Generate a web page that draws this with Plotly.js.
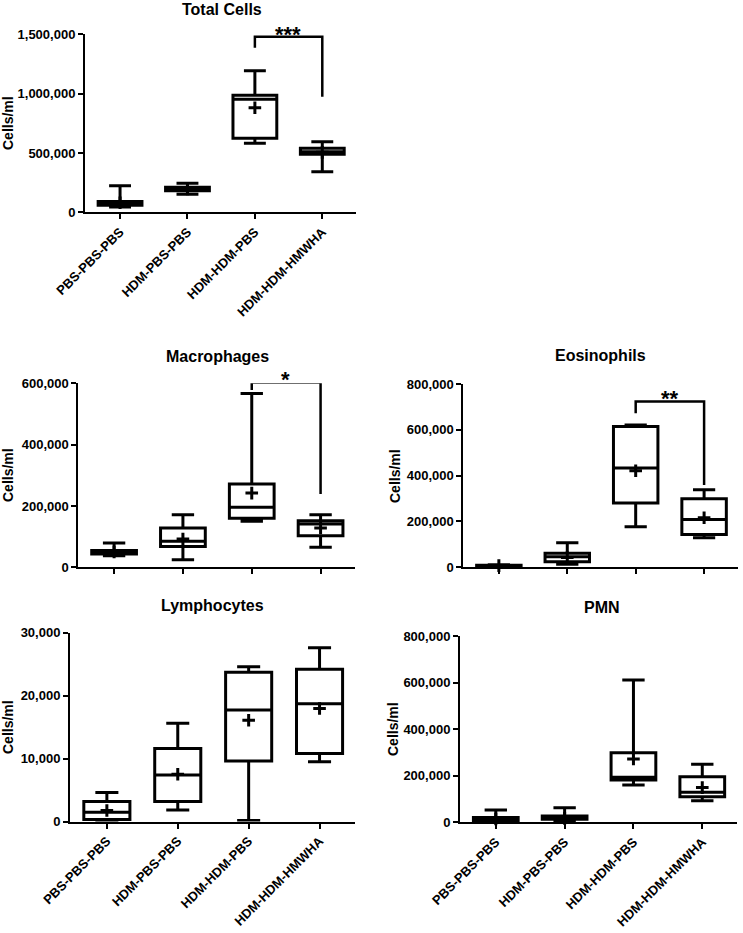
<!DOCTYPE html>
<html>
<head>
<meta charset="utf-8">
<script src="https://cdn.plot.ly/plotly-3.0.1.min.js"></script>
<style>html,body{margin:0;padding:0;background:#fff;}#chart{width:743px;height:933px;}</style>
</head>
<body>
<div id="chart"></div>
<script>
// ---------- DATA ----------
const groups = ["PBS-PBS-PBS", "HDM-PBS-PBS", "HDM-HDM-PBS", "HDM-HDM-HMWHA"];

// Total Cells
const totalMin    = [45000, 152000, 581000, 342000];
const totalQ1     = [60000, 182000, 624000, 489000];
const totalMedian = [75000, 196000, 952000, 511000];
const totalQ3     = [91000, 211000, 986000, 539000];
const totalMax    = [224000, 244000, 1193000, 595000];
const totalMean   = [80000, 196000, 881000, 505000];
const totalSig    = [1387000, 1480000, 1480000, 974000];

// Macrophages
const macroMin    = [38000, 25000, 150000, 65000];
const macroQ1     = [43000, 68000, 160000, 103000];
const macroMedian = [50000, 85000, 196000, 141000];
const macroQ3     = [55000, 128000, 272000, 152000];
const macroMax    = [79000, 171000, 567000, 171000];
const macroMean   = [50000, 92000, 242000, 128000];
const macroSig    = [578000, 603000, 603000, 239000];

// Eosinophils
const eosMin    = [2000, 12000, 176000, 128000];
const eosQ1     = [4000, 23000, 280000, 142000];
const eosMedian = [6000, 45000, 433000, 208000];
const eosQ3     = [8000, 60000, 614000, 298000];
const eosMax    = [10000, 106000, 621000, 338000];
const eosMean   = [6000, 41000, 421000, 215000];
const eosSig    = [672000, 723000, 723000, 358000];

// Lymphocytes
const lymMin    = [100, 1840, 160, 9500];
const lymQ1     = [300, 3160, 9600, 10800];
const lymMedian = [1470, 7400, 17700, 18700];
const lymQ3     = [3160, 11600, 23700, 24200];
const lymMax    = [4600, 15600, 24600, 27600];
const lymMean   = [1740, 7500, 16100, 17950];

// PMN
const pmnMin    = [2000, 5000, 160000, 93000];
const pmnQ1     = [6000, 13000, 182000, 110000];
const pmnMedian = [14000, 20000, 193000, 129000];
const pmnQ3     = [21000, 27000, 299000, 196000];
const pmnMax    = [53000, 63000, 611000, 249000];
const pmnMean   = [14000, 17000, 272000, 149000];

// Tick settings
const yMax   = [1500000, 600000, 800000, 30000, 800000];
const yDtick = [500000, 200000, 200000, 10000, 200000];
const titles = ["Total Cells", "Macrophages", "Eosinophils", "Lymphocytes", "PMN"];
const sigLabels = ["***", "*", "**"];

// ---------- LAYOUT HELPERS ----------
const W = 743, H = 933;
const px = v => v / W;
const py = v => 1 - v / H;
const FONT = "Liberation Sans, Arial, Helvetica, sans-serif";

// panel geometry in pixels: [left, right, bottomY, topY]
const panels = [
  [85, 356, 212.3, 34.3],
  [78.3, 355, 567.3, 383.3],
  [463.3, 738.3, 567, 384],
  [70, 355, 821.5, 632.7],
  [460, 736.7, 822.3, 636]
];
const showXLabels = [true, false, false, true, true];

const traces = [];
const stats = [
  [totalMin, totalQ1, totalMedian, totalQ3, totalMax, totalMean],
  [macroMin, macroQ1, macroMedian, macroQ3, macroMax, macroMean],
  [eosMin, eosQ1, eosMedian, eosQ3, eosMax, eosMean],
  [lymMin, lymQ1, lymMedian, lymQ3, lymMax, lymMean],
  [pmnMin, pmnQ1, pmnMedian, pmnQ3, pmnMax, pmnMean]
];
const sigs = [totalSig, macroSig, eosSig];

stats.forEach((s, i) => {
  const xa = i === 0 ? "x" : "x" + (i + 1);
  const ya = i === 0 ? "y" : "y" + (i + 1);
  traces.push({
    type: "box", x: groups, xaxis: xa, yaxis: ya,
    lowerfence: s[0], q1: s[1], median: s[2], q3: s[3], upperfence: s[4],
    boxpoints: false, width: 0.65, whiskerwidth: 0.5,
    line: {color: "#000", width: 3}, fillcolor: "#fff",
    hoverinfo: "skip"
  });
  traces.push({
    type: "scatter", mode: "markers", x: groups, y: s[5], xaxis: xa, yaxis: ya,
    marker: {symbol: "cross-thin", size: 9, color: "#000", line: {color: "#000", width: 3}},
    cliponaxis: false, hoverinfo: "skip"
  });
  if (i < 3) {
    traces.push({
      type: "scatter", mode: "lines", xaxis: xa, yaxis: ya,
      x: [groups[2], groups[2], groups[3], groups[3]], y: sigs[i],
      line: {color: "#000", width: 2.5}, cliponaxis: false, hoverinfo: "skip"
    });
  }
});

const layout = {
  width: W, height: H, margin: {l: 0, r: 0, t: 0, b: 0},
  paper_bgcolor: "#fff", plot_bgcolor: "rgba(0,0,0,0)",
  showlegend: false, hovermode: false,
  font: {family: FONT, color: "#000"},
  annotations: []
};

panels.forEach((p, i) => {
  const k = i === 0 ? "" : String(i + 1);
  const xa = "x" + k, ya = "y" + k;
  layout["xaxis" + k] = {
    domain: [px(p[0]), px(p[1])], anchor: ya,
    type: "category", range: [-0.52, 3.5],
    showline: true, linecolor: "#000", linewidth: 2,
    ticks: "outside", ticklen: 5, tickwidth: 2, tickcolor: "#000",
    showgrid: false, zeroline: false, tickangle: -45,
    showticklabels: showXLabels[i],
    tickfont: {family: FONT, size: 13, color: "#000", weight: "bold"},
    fixedrange: true
  };
  layout["yaxis" + k] = {
    domain: [py(p[2]), py(p[3])], anchor: xa,
    range: [0, yMax[i]], dtick: yDtick[i], tick0: 0, tickformat: ",d",
    showline: true, linecolor: "#000", linewidth: 2,
    ticks: "outside", ticklen: 5, tickwidth: 2, tickcolor: "#000",
    showgrid: false, zeroline: false,
    tickfont: {family: FONT, size: 13, color: "#000", weight: "bold"},
    fixedrange: true
  };
});

// titles
const titlePos = [[222, 0], [217, 356], [600, 355], [213, 605], [602, 607]];
titles.forEach((t, i) => {
  const first = i === 0;
  layout.annotations.push({
    text: t, xref: "paper", yref: "paper", x: px(titlePos[i][0]), y: py(titlePos[i][1]),
    xanchor: "center", yanchor: first ? "top" : "middle", showarrow: false,
    borderpad: first ? 0 : 1,
    font: {family: FONT, size: 16, color: "#000", weight: "bold"}
  });
});
// y-axis titles
const yTitlePos = [[8, 123], [8, 475], [395, 476], [8, 727], [393, 729]];
yTitlePos.forEach(p => {
  layout.annotations.push({
    text: "Cells/ml", xref: "paper", yref: "paper", x: px(p[0]), y: py(p[1]),
    xanchor: "center", yanchor: "middle", textangle: -90, showarrow: false,
    font: {family: FONT, size: 14, color: "#000", weight: "bold"}
  });
});
// significance stars
const starPos = [[288, 35], [285, 379], [670, 399]];
sigLabels.forEach((s, i) => {
  layout.annotations.push({
    text: s, xref: "paper", yref: "paper", x: px(starPos[i][0]), y: py(starPos[i][1]),
    xanchor: "center", yanchor: "middle", showarrow: false,
    font: {family: FONT, size: 22, color: "#000", weight: "bold"}
  });
});

Plotly.newPlot("chart", traces, layout, {staticPlot: true, displayModeBar: false});
</script>
</body>
</html>
